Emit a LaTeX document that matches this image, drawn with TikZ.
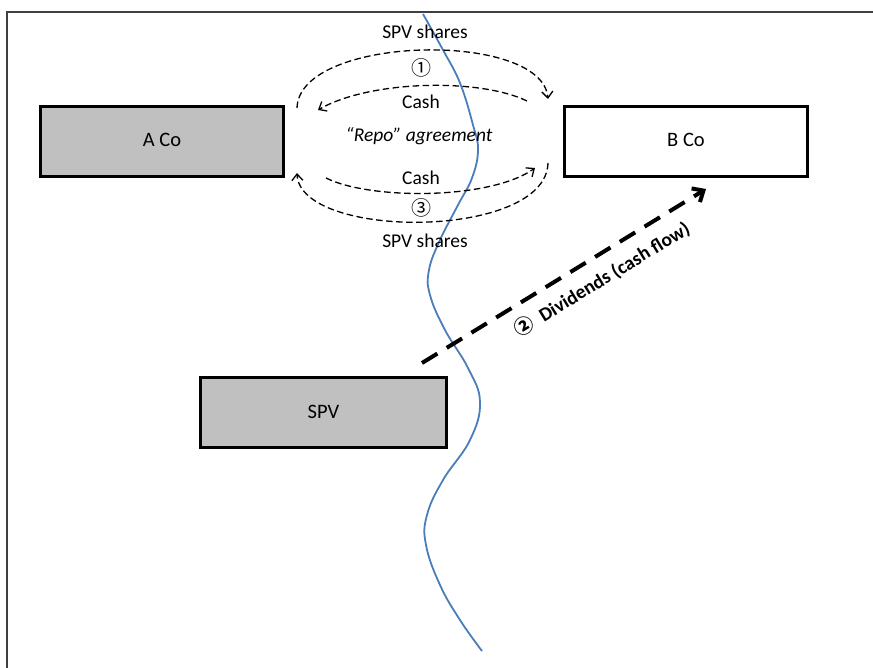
\documentclass[tikz,border=0pt]{standalone}
\usepackage{fontspec}
\setmainfont{Carlito}
\newfontfamily\symfont{Noto Sans CJK SC}
\usetikzlibrary{arrows.meta}
\definecolor{boxgray}{HTML}{C0C0C0}
\definecolor{framegray}{HTML}{404040}
\definecolor{riverblue}{HTML}{4A7EBB}
\begin{document}
\begin{tikzpicture}[x=1pt,y=-1pt,
  every node/.style={font=\fontsize{19.5}{22}\selectfont, inner sep=0pt},
  entity/.style={draw=black, line width=3pt, minimum width=243pt, minimum height=70pt, anchor=north west},
  boxtext/.style={font=\fontsize{20.5}{22}\selectfont},
  flow/.style={draw=black, line width=1.3pt, dash pattern=on 6.5pt off 3.5pt, -{Straight Barb[length=6.5pt,width=11pt,line width=1.3pt]}},
  bigflow/.style={draw=black, line width=4pt, dash pattern=on 18pt off 11pt, -{Straight Barb[length=9pt,width=16pt,line width=4pt]}},
  lbl/.style={text=black},
  num/.style={font=\symfont\fontsize{20}{22}\selectfont}
]
\useasboundingbox (0,0) rectangle (873,668);
% frame
\draw[framegray, line width=2pt] (873,12) -- (6.5,12) -- (6.5,668);

% boxes
\node[entity, fill=boxgray] (aco) at (39,105) {};
\node[boxtext] at ([yshift=2pt]aco.center) {A Co};
\node[entity, fill=white] (bco) at (563,105) {};
\node[boxtext] at ([yshift=2pt]bco.center) {B Co};
\node[entity, fill=boxgray, minimum width=246pt] (spv) at (199,376) {};
\node[boxtext] at ([yshift=1pt]spv.center) {SPV};

% blue line
\draw[riverblue, line width=1.8pt] plot[smooth, tension=0.7] coordinates {
 (423,14) (443,50) (460,83) (473,125) (478,150) (472,178) (458,205) (440,240) (429,270) (430,295) (445,330) (468,368) (480,402) (470,440) (443,480) (427,515) (426,545) (440,585) (460,620) (482,651)};

% named coordinates for arcs
\coordinate (a1s) at (297,108); \coordinate (a1e) at (548,99);
\coordinate (a2s) at (527,101); \coordinate (a2e) at (318,110);
\coordinate (a3s) at (326,178); \coordinate (a3e) at (535,168);
\coordinate (a4s) at (548,163); \coordinate (a4e) at (297,173);

\draw[flow] (a1s) .. controls (299,35) and (542,30) .. (a1e);
\draw[flow] (a2s) .. controls (480,78) and (370,80) .. (a2e);
\draw[flow] (a3s) .. controls (370,200) and (490,200) .. (a3e);
\draw[flow] (a4s) .. controls (546,240) and (300,240) .. (a4e);

% labels
\node[lbl] (l1) at (425,32) {SPV shares};
\node[num] (n1) at (421,68) {①};
\node[lbl] (l2) at (421,102) {Cash};
\node[lbl] (rep) at (419,136) {\itshape “Repo” agreement};
\node[lbl] (l3) at (421,178) {Cash};
\node[num] (n3) at (421,208) {③};
\node[lbl] (l4) at (425,241) {SPV shares};

% dividends
\coordinate (ds) at (422,363);
\coordinate (de) at (706,189);
\draw[bigflow] (ds) -- (de);
\node[rotate=31.5, font=\bfseries\fontsize{19.5}{22}\selectfont] (div) at (602,279) {{\symfont\bfseries ②}\ \ Dividends (cash flow)};
\end{tikzpicture}
\end{document}
